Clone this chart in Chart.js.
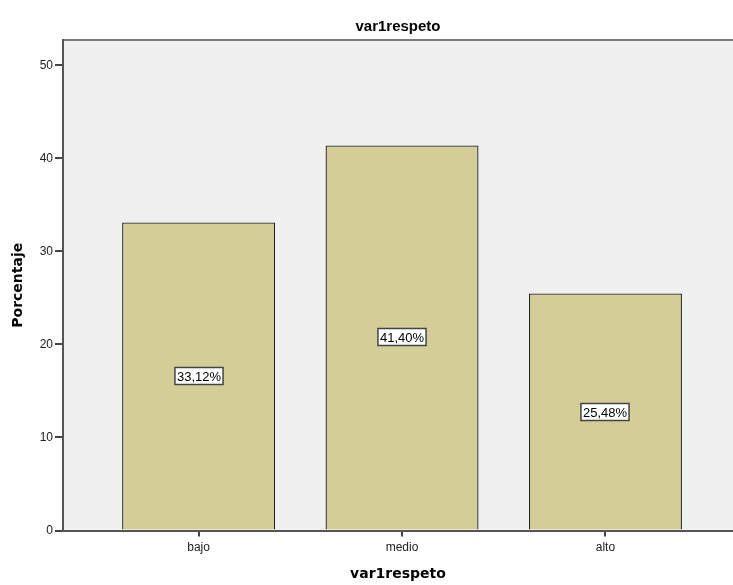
<!DOCTYPE html>
<html lang="es">

<head>
    <meta charset="UTF-8">
    <title>var1respeto</title>
    <style>
        html, body { margin: 0; padding: 0; background: #ffffff; overflow: hidden; }
        #wrap { width: 733px; height: 585px; }
    </style>
</head>

<body>

    <div id="wrap">
        <canvas id="myChart"></canvas>
    </div>

    <script src="https://cdn.jsdelivr.net/npm/chart.js"></script>

    <script>
        const categorias = ["bajo", "medio", "alto"];
        const porcentajes = [33.12, 41.40, 25.48];
        const ticksY = [0, 10, 20, 30, 40, 50];

        const fuente = "'Liberation Sans', Arial, sans-serif";

        // fondo gris del area de trazado y borde superior
        const fondoPlot = {
            id: 'fondoPlot',
            beforeDraw(chart) {
                const { ctx, chartArea: a } = chart;
                ctx.save();
                ctx.fillStyle = '#F0F0F0';
                ctx.fillRect(a.left, a.top, a.right - a.left, a.bottom - a.top);
                ctx.strokeStyle = '#7a7a7a';
                ctx.lineWidth = 2;
                ctx.beginPath();
                ctx.moveTo(a.left, a.top);
                ctx.lineTo(a.right, a.top);
                ctx.stroke();
                ctx.restore();
            }
        };

        // etiquetas con el porcentaje en caja blanca en medio de cada barra
        const etiquetas = {
            id: 'etiquetas',
            afterDatasetsDraw(chart) {
                const { ctx } = chart;
                const meta = chart.getDatasetMeta(0);
                ctx.save();
                ctx.font = '13px ' + fuente;
                ctx.textAlign = 'center';
                ctx.textBaseline = 'middle';
                meta.data.forEach((el, i) => {
                    const txt = porcentajes[i].toFixed(2).replace('.', ',') + '%';
                    const w = ctx.measureText(txt).width + 4;
                    const h = 17;
                    const cx = Math.round(el.x);
                    const cy = Math.round((el.y + el.base) / 2);
                    ctx.fillStyle = '#ffffff';
                    ctx.fillRect(cx - w / 2, cy - h / 2, w, h);
                    ctx.strokeStyle = '#444444';
                    ctx.lineWidth = 1.5;
                    ctx.strokeRect(cx - w / 2, cy - h / 2, w, h);
                    ctx.fillStyle = '#000000';
                    ctx.fillText(txt, cx, cy + 1);
                });
                ctx.restore();
            }
        };

        const ctx = document.getElementById('myChart');

        new Chart(ctx, {
            type: 'bar',
            data: {
                datasets: [{
                    data: porcentajes.map((v, i) => ({ x: i + 1, y: v })),
                    backgroundColor: '#D3CD98',
                    borderColor: '#222222',
                    borderWidth: 1.3,
                    borderSkipped: 'bottom',
                    barPercentage: 0.752,
                    categoryPercentage: 1
                }]
            },
            options: {
                responsive: true,
                maintainAspectRatio: false,
                animation: false,
                layout: { padding: 0 },
                plugins: {
                    legend: { display: false },
                    tooltip: { enabled: false },
                    title: {
                        display: true,
                        text: 'var1respeto',
                        fullSize: false,
                        color: '#000000',
                        font: { family: fuente, size: 15, weight: 'bold' },
                        padding: { top: 18, bottom: 4 }
                    }
                },
                scales: {
                    x: {
                        type: 'linear',
                        offset: false,
                        min: 1 / 3,
                        max: 3.627,
                        afterFit(scale) { scale.height = 54.5; },
                        afterBuildTicks(scale) {
                            scale.ticks = categorias.map((c, i) => ({ value: i + 1 }));
                        },
                        ticks: {
                            autoSkip: false,
                            maxRotation: 0,
                            padding: 4,
                            color: '#222222',
                            font: { family: fuente, size: 12 },
                            callback: (v) => categorias[v - 1] || ''
                        },
                        grid: {
                            offset: false,
                            drawOnChartArea: false,
                            drawTicks: true,
                            tickLength: 6,
                            color: '#444444',
                            lineWidth: 2
                        },
                        border: { color: '#555555', width: 2 },
                        title: {
                            display: true,
                            text: 'var1respeto',
                            color: '#000000',
                            font: { family: "'DejaVu Sans', sans-serif", size: 14, weight: 'bold' },
                            padding: { top: 4, bottom: 2 }
                        }
                    },
                    y: {
                        min: 0,
                        max: 52.74,
                        afterFit(scale) { scale.width = 63; },
                        afterBuildTicks(scale) {
                            scale.ticks = ticksY.map(v => ({ value: v }));
                        },
                        ticks: {
                            padding: 2,
                            color: '#222222',
                            font: { family: fuente, size: 12 }
                        },
                        grid: {
                            drawOnChartArea: false,
                            drawTicks: true,
                            tickLength: 8,
                            color: '#444444',
                            lineWidth: 2
                        },
                        border: { color: '#555555', width: 2 },
                        title: {
                            display: true,
                            text: 'Porcentaje',
                            color: '#000000',
                            font: { family: "'DejaVu Sans', sans-serif", size: 14, weight: 'bold' },
                            padding: { top: 10, bottom: 4 }
                        }
                    }
                }
            },
            plugins: [fondoPlot, etiquetas]
        });
    </script>
</body>

</html>
